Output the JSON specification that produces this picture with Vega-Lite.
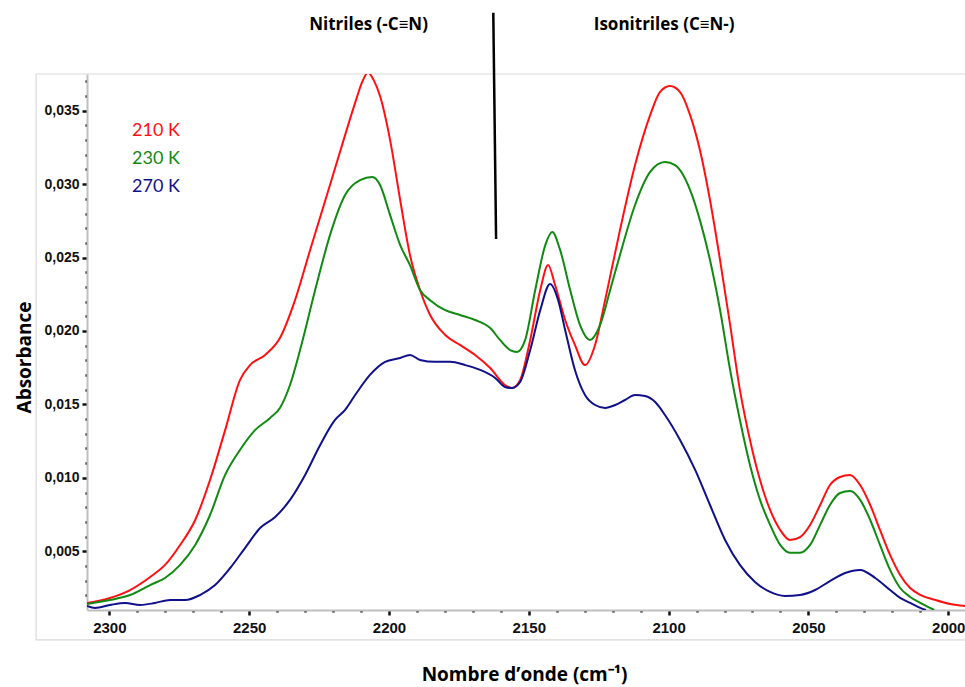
{
  "$schema": "https://vega.github.io/schema/vega-lite/v6.json",
  "width": 878,
  "height": 536,
  "autosize": {"type": "none"},
  "padding": {"left": 87, "top": 74, "right": 0, "bottom": 77},
  "background": "white",
  "config": {
    "view": {"stroke": null},
    "axis": {
      "labelFont": "Liberation Sans",
      "labelFontWeight": "bold",
      "labelColor": "#111111",
      "labelOverlap": false,
      "labelBound": false,
      "domainColor": "#bfbfbf",
      "domainWidth": 2,
      "tickColor": "#111111",
      "grid": false,
      "titleFont": "Open Sans",
      "titleFontWeight": "bold",
      "titleFontSize": 19,
      "titleColor": "#000000"
    }
  },
  "datasets": {
    "spectra": [
    {"series":"210 K","wn":2308.0,"abs":0.00148},{"series":"210 K","wn":2299.8,"abs":0.00182},{"series":"210 K","wn":2292.6,"abs":0.00236},{"series":"210 K","wn":2285.4,"abs":0.00325},{"series":"210 K","wn":2280.1,"abs":0.00407},{"series":"210 K","wn":2274.7,"abs":0.00543},{"series":"210 K","wn":2269.3,"abs":0.00713},{"series":"210 K","wn":2264.0,"abs":0.00985},{"series":"210 K","wn":2258.6,"abs":0.01325},{"series":"210 K","wn":2253.3,"abs":0.01666},{"series":"210 K","wn":2249.7,"abs":0.01768},{"series":"210 K","wn":2244.3,"abs":0.01837},{"series":"210 K","wn":2239.0,"abs":0.01952},{"series":"210 K","wn":2233.6,"abs":0.0221},{"series":"210 K","wn":2228.2,"abs":0.02552},{"series":"210 K","wn":2221.1,"abs":0.02994},{"series":"210 K","wn":2215.7,"abs":0.03334},{"series":"210 K","wn":2212.0,"abs":0.03560},{"series":"210 K","wn":2209.5,"abs":0.0370},{"series":"210 K","wn":2207.5,"abs":0.0376},{"series":"210 K","wn":2205.5,"abs":0.0371},{"series":"210 K","wn":2203.2,"abs":0.0360},{"series":"210 K","wn":2199.6,"abs":0.033},{"series":"210 K","wn":2196.0,"abs":0.02892},{"series":"210 K","wn":2192.5,"abs":0.02518},{"series":"210 K","wn":2188.9,"abs":0.02279},{"series":"210 K","wn":2185.3,"abs":0.02109},{"series":"210 K","wn":2179.9,"abs":0.01973},{"series":"210 K","wn":2174.6,"abs":0.01905},{"series":"210 K","wn":2169.2,"abs":0.01837},{"series":"210 K","wn":2163.8,"abs":0.01748},{"series":"210 K","wn":2158.5,"abs":0.01632},{"series":"210 K","wn":2156.0,"abs":0.01612},{"series":"210 K","wn":2153.1,"abs":0.01666},{"series":"210 K","wn":2149.5,"abs":0.01939},{"series":"210 K","wn":2145.9,"abs":0.02279},{"series":"210 K","wn":2143.1,"abs":0.02449},{"series":"210 K","wn":2140.6,"abs":0.02313},{"series":"210 K","wn":2137.0,"abs":0.02075},{"series":"210 K","wn":2133.5,"abs":0.01905},{"series":"210 K","wn":2129.9,"abs":0.01768},{"series":"210 K","wn":2126.3,"abs":0.01905},{"series":"210 K","wn":2122.7,"abs":0.0221},{"series":"210 K","wn":2117.4,"abs":0.02687},{"series":"210 K","wn":2112.0,"abs":0.0313},{"series":"210 K","wn":2106.6,"abs":0.0347},{"series":"210 K","wn":2103.1,"abs":0.03627},{"series":"210 K","wn":2099.5,"abs":0.03668},{"series":"210 K","wn":2095.9,"abs":0.03627},{"series":"210 K","wn":2092.3,"abs":0.0347},{"series":"210 K","wn":2088.8,"abs":0.03232},{"series":"210 K","wn":2085.2,"abs":0.02892},{"series":"210 K","wn":2081.6,"abs":0.02483},{"series":"210 K","wn":2078.0,"abs":0.02041},{"series":"210 K","wn":2074.5,"abs":0.01599},{"series":"210 K","wn":2070.9,"abs":0.01258},{"series":"210 K","wn":2067.3,"abs":0.00985},{"series":"210 K","wn":2063.7,"abs":0.00781},{"series":"210 K","wn":2060.1,"abs":0.00645},{"series":"210 K","wn":2056.6,"abs":0.00577},{"series":"210 K","wn":2053.0,"abs":0.00597},{"series":"210 K","wn":2049.4,"abs":0.00679},{"series":"210 K","wn":2045.8,"abs":0.00815},{"series":"210 K","wn":2042.3,"abs":0.00951},{"series":"210 K","wn":2038.7,"abs":0.01006},{"series":"210 K","wn":2035.1,"abs":0.0102},{"series":"210 K","wn":2031.5,"abs":0.00951},{"series":"210 K","wn":2027.9,"abs":0.00815},{"series":"210 K","wn":2024.4,"abs":0.00645},{"series":"210 K","wn":2020.8,"abs":0.00475},{"series":"210 K","wn":2017.2,"abs":0.00339},{"series":"210 K","wn":2013.6,"abs":0.0025},{"series":"210 K","wn":2010.0,"abs":0.00203},{"series":"210 K","wn":2004.7,"abs":0.00169},{"series":"210 K","wn":1999.3,"abs":0.00141},{"series":"210 K","wn":1994.0,"abs":0.00127},

    {"series":"230 K","wn":2308.0,"abs":0.00141},{"series":"230 K","wn":2299.8,"abs":0.00168},{"series":"230 K","wn":2292.6,"abs":0.00202},{"series":"230 K","wn":2285.4,"abs":0.0027},{"series":"230 K","wn":2280.1,"abs":0.00318},{"series":"230 K","wn":2274.7,"abs":0.00407},{"series":"230 K","wn":2269.3,"abs":0.00543},{"series":"230 K","wn":2264.0,"abs":0.00747},{"series":"230 K","wn":2258.6,"abs":0.0102},{"series":"230 K","wn":2253.3,"abs":0.0119},{"series":"230 K","wn":2247.9,"abs":0.01325},{"series":"230 K","wn":2242.5,"abs":0.01408},{"series":"230 K","wn":2239.0,"abs":0.01476},{"series":"230 K","wn":2235.4,"abs":0.01632},{"series":"230 K","wn":2231.8,"abs":0.0187},{"series":"230 K","wn":2226.4,"abs":0.02279},{"series":"230 K","wn":2221.1,"abs":0.02653},{"series":"230 K","wn":2215.7,"abs":0.02926},{"series":"230 K","wn":2210.3,"abs":0.03028},{"series":"230 K","wn":2206.0,"abs":0.03048},{"series":"230 K","wn":2203.2,"abs":0.02994},{"series":"230 K","wn":2199.6,"abs":0.02789},{"series":"230 K","wn":2196.0,"abs":0.02585},{"series":"230 K","wn":2192.5,"abs":0.02449},{"series":"230 K","wn":2188.9,"abs":0.02279},{"series":"230 K","wn":2185.3,"abs":0.0221},{"series":"230 K","wn":2179.9,"abs":0.02142},{"series":"230 K","wn":2174.6,"abs":0.02109},{"series":"230 K","wn":2169.2,"abs":0.02075},{"series":"230 K","wn":2163.8,"abs":0.0202},{"series":"230 K","wn":2160.3,"abs":0.01939},{"series":"230 K","wn":2156.7,"abs":0.0187},{"series":"230 K","wn":2154.2,"abs":0.01857},{"series":"230 K","wn":2151.3,"abs":0.01939},{"series":"230 K","wn":2147.7,"abs":0.02279},{"series":"230 K","wn":2144.1,"abs":0.02585},{"series":"230 K","wn":2141.6,"abs":0.02674},{"series":"230 K","wn":2138.8,"abs":0.02552},{"series":"230 K","wn":2135.2,"abs":0.02279},{"series":"230 K","wn":2131.7,"abs":0.02041},{"series":"230 K","wn":2128.1,"abs":0.01939},{"series":"230 K","wn":2124.5,"abs":0.02041},{"series":"230 K","wn":2120.9,"abs":0.02279},{"series":"230 K","wn":2117.4,"abs":0.02518},{"series":"230 K","wn":2112.0,"abs":0.02858},{"series":"230 K","wn":2106.6,"abs":0.03083},{"series":"230 K","wn":2101.3,"abs":0.0315},{"series":"230 K","wn":2097.7,"abs":0.0313},{"series":"230 K","wn":2092.3,"abs":0.0296},{"series":"230 K","wn":2088.8,"abs":0.02755},{"series":"230 K","wn":2085.2,"abs":0.02483},{"series":"230 K","wn":2081.6,"abs":0.02143},{"series":"230 K","wn":2078.0,"abs":0.01734},{"series":"230 K","wn":2074.5,"abs":0.01394},{"series":"230 K","wn":2070.9,"abs":0.01088},{"series":"230 K","wn":2067.3,"abs":0.0085},{"series":"230 K","wn":2063.7,"abs":0.0068},{"series":"230 K","wn":2060.1,"abs":0.00543},{"series":"230 K","wn":2056.6,"abs":0.0049},{"series":"230 K","wn":2053.0,"abs":0.0049},{"series":"230 K","wn":2049.4,"abs":0.00543},{"series":"230 K","wn":2045.8,"abs":0.0068},{"series":"230 K","wn":2042.3,"abs":0.00815},{"series":"230 K","wn":2038.7,"abs":0.00897},{"series":"230 K","wn":2035.1,"abs":0.0091},{"series":"230 K","wn":2031.5,"abs":0.0085},{"series":"230 K","wn":2027.9,"abs":0.00713},{"series":"230 K","wn":2024.4,"abs":0.00543},{"series":"230 K","wn":2020.8,"abs":0.00373},{"series":"230 K","wn":2017.2,"abs":0.0025},{"series":"230 K","wn":2013.6,"abs":0.00189},{"series":"230 K","wn":2010.0,"abs":0.00148},{"series":"230 K","wn":2006.5,"abs":0.00114},{"series":"230 K","wn":2005.0,"abs":0.001},

    {"series":"270 K","wn":2308.0,"abs":0.00127},{"series":"270 K","wn":2305.1,"abs":0.00114},{"series":"270 K","wn":2299.8,"abs":0.00134},{"series":"270 K","wn":2294.4,"abs":0.00148},{"series":"270 K","wn":2289.0,"abs":0.00134},{"series":"270 K","wn":2283.7,"abs":0.00148},{"series":"270 K","wn":2278.3,"abs":0.00168},{"series":"270 K","wn":2272.9,"abs":0.00168},{"series":"270 K","wn":2267.6,"abs":0.00202},{"series":"270 K","wn":2262.2,"abs":0.0027},{"series":"270 K","wn":2256.8,"abs":0.00386},{"series":"270 K","wn":2251.5,"abs":0.00522},{"series":"270 K","wn":2246.1,"abs":0.00658},{"series":"270 K","wn":2240.7,"abs":0.00733},{"series":"270 K","wn":2235.4,"abs":0.0085},{"series":"270 K","wn":2230.0,"abs":0.0102},{"series":"270 K","wn":2224.6,"abs":0.01224},{"series":"270 K","wn":2219.3,"abs":0.01394},{"series":"270 K","wn":2215.7,"abs":0.01462},{"series":"270 K","wn":2212.1,"abs":0.01564},{"series":"270 K","wn":2206.8,"abs":0.01701},{"series":"270 K","wn":2201.4,"abs":0.0179},{"series":"270 K","wn":2196.0,"abs":0.01816},{"series":"270 K","wn":2192.5,"abs":0.01837},{"series":"270 K","wn":2188.9,"abs":0.01803},{"series":"270 K","wn":2183.5,"abs":0.0179},{"series":"270 K","wn":2178.1,"abs":0.0179},{"series":"270 K","wn":2172.8,"abs":0.01768},{"series":"270 K","wn":2167.4,"abs":0.01735},{"series":"270 K","wn":2162.0,"abs":0.0168},{"series":"270 K","wn":2158.5,"abs":0.01619},{"series":"270 K","wn":2156.0,"abs":0.01612},{"series":"270 K","wn":2153.1,"abs":0.01653},{"series":"270 K","wn":2149.5,"abs":0.0187},{"series":"270 K","wn":2145.9,"abs":0.02142},{"series":"270 K","wn":2142.4,"abs":0.0232},{"series":"270 K","wn":2139.5,"abs":0.0221},{"series":"270 K","wn":2137.0,"abs":0.02007},{"series":"270 K","wn":2133.5,"abs":0.01734},{"series":"270 K","wn":2129.9,"abs":0.01564},{"series":"270 K","wn":2126.3,"abs":0.01496},{"series":"270 K","wn":2122.7,"abs":0.01476},{"series":"270 K","wn":2119.1,"abs":0.01496},{"series":"270 K","wn":2115.6,"abs":0.0153},{"series":"270 K","wn":2112.0,"abs":0.01564},{"series":"270 K","wn":2108.4,"abs":0.01557},{"series":"270 K","wn":2104.8,"abs":0.01516},{"series":"270 K","wn":2101.3,"abs":0.01428},{"series":"270 K","wn":2095.9,"abs":0.01258},{"series":"270 K","wn":2090.5,"abs":0.01054},{"series":"270 K","wn":2085.2,"abs":0.00815},{"series":"270 K","wn":2079.8,"abs":0.00577},{"series":"270 K","wn":2074.5,"abs":0.00407},{"series":"270 K","wn":2069.1,"abs":0.00291},{"series":"270 K","wn":2063.7,"abs":0.00223},{"series":"270 K","wn":2058.4,"abs":0.00196},{"series":"270 K","wn":2053.0,"abs":0.00202},{"series":"270 K","wn":2047.6,"abs":0.00236},{"series":"270 K","wn":2042.3,"abs":0.00297},{"series":"270 K","wn":2036.9,"abs":0.00352},{"series":"270 K","wn":2031.5,"abs":0.00373},{"series":"270 K","wn":2026.1,"abs":0.00318},{"series":"270 K","wn":2020.8,"abs":0.00236},{"series":"270 K","wn":2017.2,"abs":0.00182},{"series":"270 K","wn":2013.6,"abs":0.00148},{"series":"270 K","wn":2010.0,"abs":0.00114},{"series":"270 K","wn":2008.0,"abs":0.001}
    ],
    "one": [{"item": "annotation"}]
  },
  "layer": [
    {
      "data": {"name": "one"},
      "mark": {"type": "rect", "fill": null, "filled": false, "stroke": "#d9d9d9", "strokeWidth": 1.2, "clip": false},
      "encoding": {
        "x": {"datum": 2326.2, "type": "quantitative"},
        "x2": {"datum": 1990},
        "y": {"datum": 0.0375, "type": "quantitative"},
        "y2": {"datum": -0.00104}
      }
    },
    {
      "data": {"name": "spectra"},
      "mark": {"type": "line", "strokeWidth": 2, "interpolate": "monotone", "clip": true},
      "encoding": {
        "x": {
          "field": "wn", "type": "quantitative",
          "scale": {"domain": [1994, 2308], "reverse": true, "nice": false, "zero": false},
          "axis": {
            "values": [2300,2290,2280,2270,2260,2250,2240,2230,2220,2210,2200,2190,2180,2170,2160,2150,2140,2130,2120,2110,2100,2090,2080,2070,2060,2050,2040,2030,2020,2010,2000],
            "tickCount": 1000,
            "labelExpr": "datum.value % 50 == 0 ? format(datum.value, 'd') : ''",
            "labelOverlap": false,
            "labelFontSize": {"condition": {"test": "datum.value % 50 == 0", "value": 15}, "value": 1},
            "labelPadding": 5,
            "labelFlush": false,
            "tickSize": {"condition": {"test": "datum.value % 50 == 0", "value": 5}, "value": 2},
            "tickWidth": 2.5,
            "title": "Nombre d’onde (cm⁻¹)",
            "titleX": 437,
            "titleY": 70,
            "titleBaseline": "alphabetic",
            "titleAnchor": null,
            "titleAlign": "center"
          }
        },
        "y": {
          "field": "abs", "type": "quantitative",
          "scale": {"domain": [0.001, 0.0375], "nice": false, "zero": false},
          "axis": {
            "values": [0.002,0.003,0.004,0.005,0.006,0.007,0.008,0.009,0.010,0.011,0.012,0.013,0.014,0.015,0.016,0.017,0.018,0.019,0.020,0.021,0.022,0.023,0.024,0.025,0.026,0.027,0.028,0.029,0.030,0.031,0.032,0.033,0.034,0.035,0.036,0.037],
            "tickCount": 1000,
            "labelExpr": "abs(round(datum.value*1000) % 5) == 0 ? replace(format(datum.value, '.3f'), '.', ',') : ''",
            "labelOverlap": false,
            "labelFontSize": {"condition": {"test": "abs(round(datum.value*1000) % 5) == 0", "value": 14}, "value": 1},
            "labelPadding": 3,
            "tickSize": {"condition": {"test": "abs(round(datum.value*1000) % 5) == 0", "value": 5}, "value": 2},
            "tickWidth": 2.5,
            "title": "Absorbance",
            "titleX": -57,
            "titleY": 283,
            "titleAngle": 270,
            "titleBaseline": "alphabetic",
            "titleAlign": "center",
            "titleAnchor": null
          }
        },
        "color": {
          "field": "series", "type": "nominal",
          "scale": {"domain": ["210 K", "230 K", "270 K"], "range": ["#ff1010", "#108a10", "#10108a"]},
          "legend": {
            "orient": "none",
            "legendX": 27,
            "legendY": 48,
            "title": null,
            "symbolSize": 0,
            "symbolOpacity": 0,
            "symbolStrokeWidth": 0,
            "labelFont": "Lato",
            "labelFontSize": 18,
            "labelOffset": 0,
            "rowPadding": 10,
            "padding": 0,
            "encode": {"labels": {"update": {"fill": {"scale": "color", "field": "value"}}}}
          }
        },
        "detail": {"field": "series"}
      }
    },
    {
      "data": {"name": "one"},
      "mark": {"type": "rule", "color": "#000000", "strokeWidth": 2.5, "clip": false},
      "encoding": {
        "x": {"datum": 2162.7, "type": "quantitative"},
        "x2": {"datum": 2161.7},
        "y": {"datum": 0.04167, "type": "quantitative"},
        "y2": {"datum": 0.02626}
      }
    },
    {
      "data": {"name": "one"},
      "mark": {"type": "text", "font": "Open Sans", "fontWeight": "bold", "fontSize": 17, "fill": "#000000", "align": "center", "baseline": "middle", "clip": false},
      "encoding": {
        "x": {"datum": 2207.3, "type": "quantitative"},
        "y": {"datum": 0.04083, "type": "quantitative"},
        "text": {"value": "Nitriles (-C≡N)"}
      }
    },
    {
      "data": {"name": "one"},
      "mark": {"type": "text", "font": "Open Sans", "fontWeight": "bold", "fontSize": 17, "fill": "#000000", "align": "center", "baseline": "middle", "clip": false},
      "encoding": {
        "x": {"datum": 2101.6, "type": "quantitative"},
        "y": {"datum": 0.04083, "type": "quantitative"},
        "text": {"value": "Isonitriles (C≡N-)"}
      }
    }
  ]
}
